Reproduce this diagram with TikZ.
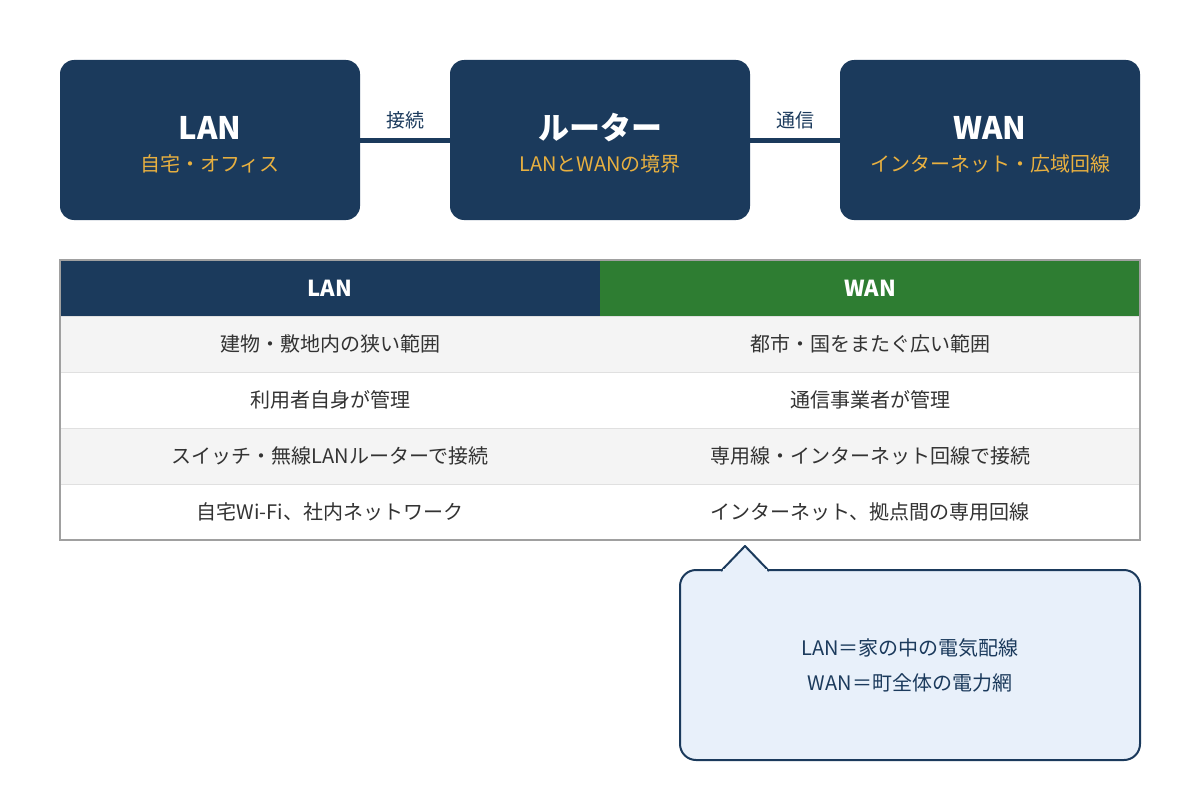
\documentclass[tikz,border=0pt]{standalone}
\usepackage{fontspec}
\setmainfont{Noto Sans CJK JP}
\usetikzlibrary{positioning,calc}
\definecolor{navy}{HTML}{1B3A5C}
\definecolor{wgreen}{HTML}{2E7D32}
\definecolor{gold}{HTML}{E8B040}
\definecolor{rowgray}{HTML}{F4F4F4}
\definecolor{tblline}{HTML}{A0A0A0}
\definecolor{callfill}{HTML}{E8F0FA}
\definecolor{txt}{HTML}{333333}

\begin{document}
\begin{tikzpicture}
[x=1pt,y=-1pt,
box/.style={rectangle,rounded corners=14pt,fill=navy,minimum width=300pt,minimum height=160pt,inner sep=0pt},
title/.style={text=white,font=\fontsize{31}{34}\selectfont\bfseries},
sub/.style={text=gold,font=\fontsize{20}{22}\selectfont},
link/.style={line width=5pt,draw=navy},
linklbl/.style={text=navy,font=\fontsize{19}{21}\selectfont},
head/.style={rectangle,minimum width=540pt,minimum height=56pt,inner sep=0pt,text=white,font=\fontsize{22}{24}\selectfont\bfseries},
cell/.style={rectangle,minimum width=540pt,minimum height=56pt,inner sep=0pt,text=txt,font=\fontsize{20}{22}\selectfont},
calltext/.style={text=navy,font=\fontsize{20}{22}\selectfont}]
\useasboundingbox (0,0) rectangle (1200,800);
% top boxes
\node[box] (lan) at (210,140) {};
\node[box] (router) at (600,140) {};
\node[box] (wan) at (990,140) {};
\node[title] (lant) at (210,128) {LAN};
\node[sub] (lans) at (210,164) {自宅・オフィス};
\node[title] (routert) at (600,128) {ルーター};
\node[sub] (routers) at (600,164) {LANとWANの境界};
\node[title] (want) at (990,128) {WAN};
\node[sub] (wans) at (990,164) {インターネット・広域回線};
\draw[link] (lan.east) -- (router.west) node[linklbl,midway,above=5pt] {接続};
\draw[link] (router.east) -- (wan.west) node[linklbl,midway,above=5pt] {通信};
% table
\node[head,fill=navy] (hl) at (330,288) {LAN};
\node[head,fill=wgreen] (hw) at (870,288) {WAN};
\foreach \y/\f/\a/\b in {344/rowgray/建物・敷地内の狭い範囲/都市・国をまたぐ広い範囲,
  400/white/利用者自身が管理/通信事業者が管理,
  456/rowgray/スイッチ・無線LANルーターで接続/専用線・インターネット回線で接続,
  512/white/自宅Wi-Fi、社内ネットワーク/インターネット、拠点間の専用回線}{
  \node[cell,fill=\f] (l\y) at (330,\y) {\a};
  \node[cell,fill=\f] (w\y) at (870,\y) {\b};
  \draw[draw=black!12] (60,\y-28) -- (1140,\y-28);
}
\draw[tblline,line width=1.2pt] (60,260) rectangle (1140,540);
% callout
\coordinate (tip) at (745,546);
\draw[navy,fill=callfill,line width=2pt,rounded corners=16pt]
  (680,570) rectangle (1140,760);
\draw[navy,fill=callfill,line width=2pt,line join=round]
  (721,571) -- (tip) -- (769,571);
\fill[callfill] (723,569) rectangle (767,574);
\node[calltext] (c1) at (910,648) {LAN＝家の中の電気配線};
\node[calltext] (c2) at (910,683) {WAN＝町全体の電力網};
\end{tikzpicture}
\end{document}
